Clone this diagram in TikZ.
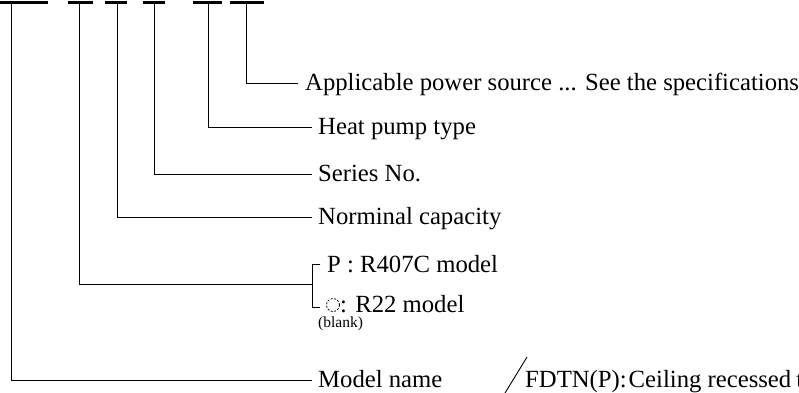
\documentclass[tikz,border=0pt]{standalone}
\usepackage{fontspec}
\setmainfont{Liberation Serif}
\begin{document}
\begin{tikzpicture}[x=1pt,y=-1pt,
  bar/.style={line width=2.6pt},
  lead/.style={line width=1pt},
  lbl/.style={anchor=base west,inner sep=0pt,font=\fontsize{24.7}{28}\selectfont},
  small/.style={anchor=base west,inner sep=0pt,font=\fontsize{15.5}{17}\selectfont}]
\clip (0,0) rectangle (799,392);
\useasboundingbox (0,0) rectangle (799,392);
% top bars
\draw[bar] (0,2.5) -- (48,2.5);
\draw[bar] (68,2.5) -- (93,2.5);
\draw[bar] (105,2.5) -- (127,2.5);
\draw[bar] (143,2.5) -- (165,2.5);
\draw[bar] (193,2.5) -- (222,2.5);
\draw[bar] (230,2.5) -- (264,2.5);
\coordinate (s1) at (11,2.5);
\coordinate (s2) at (79,2.5);
\coordinate (s3) at (117,2.5);
\coordinate (s4) at (154,2.5);
\coordinate (s5) at (208,2.5);
\coordinate (s6) at (246,2.5);
% labels
\node[lbl] (t6) at (305,90) {Applicable power source ... See the specifications};
\node[lbl] (t5) at (318,134) {Heat pump type};
\node[lbl] (t4) at (318,181) {Series No.};
\node[lbl] (t3) at (318,224) {Norminal capacity};
\node[lbl] (tp) at (327,272) {P : R407C model};
\node[lbl] (tr) at (340,312) {: R22 model};
\node[small] (tb) at (318,327) {(blank)};
\node[lbl] (t1) at (318,387) {Model name};
\node[lbl] (tf) at (525,387) {FDTN(P):\kern2pt Ceiling recessed\kern5pt type};
% leaders
\draw[lead] (s6) |- (298,83);
\draw[lead] (s5) |- (312,127);
\draw[lead] (s4) |- (312,174);
\draw[lead] (s3) |- (312,217);
\draw[lead] (s2) |- (312,284);
\draw[lead] (s1) |- (312,380);
% bracket
\draw[lead] (320,264) -- (312,264) -- (312,307) -- (320,307);
% blank circle
\draw[line width=0.8pt,dash pattern=on 2pt off 1.5pt] (333,305) circle (6.5);
% slash
\draw[line width=0.9pt] (505,393) -- (527,357);
\end{tikzpicture}
\end{document}
